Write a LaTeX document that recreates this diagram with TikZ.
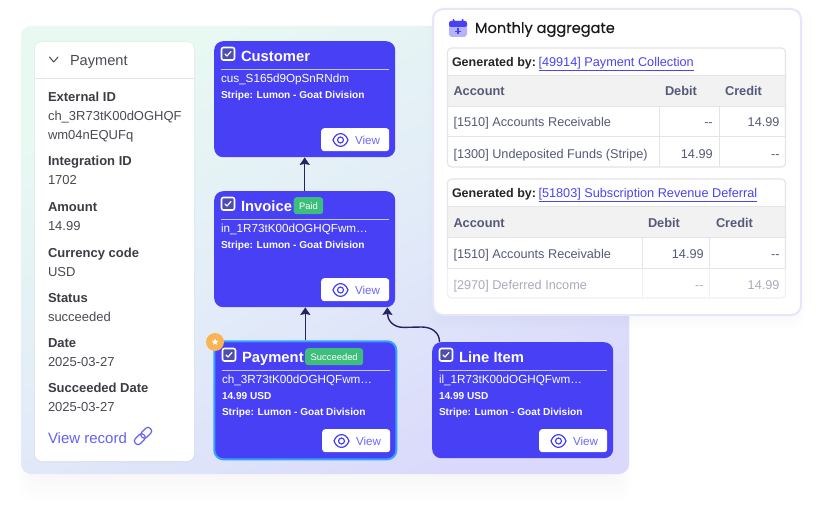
\documentclass[tikz,border=0pt]{standalone}
\usepackage{fontspec}
\setmainfont{Liberation Sans}
\newfontfamily\popfont[FakeBold=0.35]{Poppins}
\usetikzlibrary{arrows.meta,calc,shapes.geometric}
\definecolor{cardblue}{HTML}{4840F5}
\definecolor{checkfill}{HTML}{4E4EAE}
\definecolor{inkdark}{HTML}{3C3C44}
\definecolor{inkmid}{HTML}{4A4A52}
\definecolor{arrowink}{HTML}{25245F}
\definecolor{tabletext}{HTML}{555A78}
\definecolor{tablefade}{HTML}{A9ABC0}
\definecolor{tableline}{HTML}{E4E4E8}
\definecolor{tablelinefade}{HTML}{F0F0F3}
\definecolor{okgreen}{HTML}{3DBE7B}
\definecolor{linkblue}{HTML}{4A45F0}
\definecolor{bgmint}{HTML}{E8F9F2}
\definecolor{bgmid}{HTML}{E2ECF8}
\definecolor{bglav}{HTML}{DAD9FB}
\definecolor{panelrim}{HTML}{E6E6FB}
\definecolor{starorange}{HTML}{F9B455}
\definecolor{shadowink}{HTML}{8A8AB0}
\newcommand{\fs}[1]{\fontsize{#1}{#1}\selectfont}
\tikzset{
  txt/.style={inner sep=0pt,outer sep=0pt,anchor=base west},
  txtr/.style={inner sep=0pt,outer sep=0pt,anchor=base east},
  panelkey/.style={txt,text=inkdark,font=\fs{13}\bfseries},
  panelval/.style={txt,text=inkmid,font=\fs{13}},
  card/.style={fill=cardblue,rounded corners=9pt,anchor=north west,minimum width=181pt,minimum height=116pt,inner sep=0pt},
  cardtitle/.style={txt,text=white,font=\fs{14.8}\bfseries},
  cardid/.style={txt,text=white,font=\fs{11.7}},
  cardsmall/.style={txt,text=white,font=\fs{10.1}\bfseries},
  badge/.style={fill=okgreen,rounded corners=3pt,text=white,font=\fs{9.4},inner sep=0pt,anchor=north west,minimum height=17pt},
  viewbtn/.style={fill=white,rounded corners=3pt,anchor=north west,minimum width=68pt,minimum height=23pt,inner sep=0pt},
  link/.style={arrowink,line width=1.4pt,-{Stealth[length=7.5pt,width=10pt,inset=1pt]}},
  th/.style={txt,text=tabletext,font=\fs{12.8}\bfseries},
  td/.style={txt,text=tabletext,font=\fs{12.7}},
  tdr/.style={txtr,text=tabletext,font=\fs{12.7}},
  tdfade/.style={txt,text=tablefade,font=\fs{12.7}},
  tdrfade/.style={txtr,text=tablefade,font=\fs{12.7}},
  gen/.style={txt,text=black!85,font=\fs{12.5}\bfseries},
  genlink/.style={txt,text=linkblue,font=\fs{12.7}},
  grid/.style={tableline,line width=1pt},
}
% checkbox, title, divider, id line and View button of one card
\newcommand{\cardhead}[3]{%
  \draw[white,line width=1.6pt,fill=checkfill,rounded corners=2pt] (7.5,6.5) rectangle (20.5,19);
  \draw[white,line width=1.2pt,line cap=round,line join=round] (11,13) -- (13,15) -- (17,10.5);
  \node[cardtitle] (#1title) at (27,20.5) {#2};
  \draw[white!70!cardblue,line width=1pt] (7,28.5) -- (175,28.5);
  \node[cardid] (#1id) at (7,41.5) {#3};
  \node[viewbtn] (#1btn) at (107,87) {};
  \draw[cardblue,line width=1.2pt] (119,99) .. controls (122,90.5) and (131,90.5) .. (134,99) .. controls (131,107.5) and (122,107.5) .. (119,99) -- cycle;
  \draw[cardblue,line width=1.2pt] (126.5,99) circle (3);
  \node[txt,text=cardblue!80!white,font=\fs{11.6}] (#1view) at (141,103.2) {View};
}
\begin{document}
\begin{tikzpicture}[x=1pt,y=-1pt]
\useasboundingbox (0,0) rectangle (822,508);
\fill[white] (0,0) rectangle (822,508);
% soft shadow of the backdrop
\foreach \g in {1,...,9}{
  \fill[shadowink,opacity=.006,rounded corners=16pt]
    ($(36,40)+(-\g*2,0)$) rectangle ($(614,470)+(\g*2,\g*3.4)$);
}
% backdrop
\shade[rounded corners=10pt,top color=bgmint,bottom color=bglav,middle color=bgmid,shading angle=30]
  (21,26) rectangle (629,474);
% left panel
\fill[black!30,opacity=.12,rounded corners=8pt] (34,41) rectangle (195,462.5);
\fill[white,rounded corners=7pt] (35,42) rectangle (194,461);
\draw[tableline,line width=1pt] (35,78.5) -- (194,78.5);
\draw[inkmid,line width=1pt,line cap=round,line join=round] (49.5,57) -- (53.7,62) -- (58,57);
\node[txt,text=inkmid,font=\fs{14.6}] (phead) at (70,65.5) {Payment};
\node[panelkey] (k1) at (48,102) {External ID};
\node[panelval] (v1a) at (48,121) {ch\_3R73tK00dOGHQF};
\node[panelval] (v1b) at (48,140) {wm04nEQUFq};
\node[panelkey] (k2) at (48,166) {Integration ID};
\node[panelval] (v2) at (48,185) {1702};
\node[panelkey] (k3) at (48,211) {Amount};
\node[panelval] (v3) at (48,230) {14.99};
\node[panelkey] (k4) at (48,257) {Currency code};
\node[panelval] (v4) at (48,276) {USD};
\node[panelkey] (k5) at (48,302) {Status};
\node[panelval] (v5) at (48,321) {succeeded};
\node[panelkey] (k6) at (48,347) {Date};
\node[panelval] (v6) at (48,366) {2025-03-27};
\node[panelkey] (k7) at (48,392) {Succeeded Date};
\node[panelval] (v7) at (48,411) {2025-03-27};
\node[txt,text=linkblue!85!white,font=\fs{15}] (vrec) at (48,443) {View record};
\begin{scope}[shift={(143,436)},rotate=45]
  \draw[linkblue!85!white,line width=1.2pt,rounded corners=3pt] (-10.5,-3.5) rectangle (1.5,3.5);
  \draw[linkblue!85!white,line width=1.2pt,rounded corners=3pt] (-1.5,-3.5) rectangle (10.5,3.5);
\end{scope}
% cards
\node[card] (customer) at (214,41) {};
\node[card] (invoice) at (214,191) {};
\node[card,draw=blue!45!cyan!80!white,line width=2pt,minimum width=182pt,minimum height=118pt] (payment) at (213.3,340.3) {};
\node[card,minimum height=116pt] (lineitem) at (432,342) {};
\begin{scope}[shift={(214,41)}]
  \cardhead{cu}{Customer}{cus\_S165d9OpSnRNdm}
  \node[cardsmall] (custripe) at (7,57.5) {Stripe: Lumon - Goat Division};
\end{scope}
\begin{scope}[shift={(214,191)}]
  \cardhead{in}{Invoice}{in\_1R73tK00dOGHQFwm…}
  \node[badge,minimum width=29.5pt] (inbadge) at (79.5,6) {Paid};
  \node[cardsmall] (instripe) at (7,57.5) {Stripe: Lumon - Goat Division};
\end{scope}
\begin{scope}[shift={(215,342)}]
  \cardhead{pa}{Payment}{ch\_3R73tK00dOGHQFwm…}
  \node[badge,minimum width=58pt] (pabadge) at (90,6) {Succeeded};
  \node[cardsmall] (paamt) at (7,57.5) {14.99 USD};
  \node[cardsmall] (pastripe) at (7,73.5) {Stripe: Lumon - Goat Division};
\end{scope}
\begin{scope}[shift={(432,342)}]
  \cardhead{li}{Line Item}{il\_1R73tK00dOGHQFwm…}
  \node[cardsmall] (liamt) at (7,57.5) {14.99 USD};
  \node[cardsmall] (listripe) at (7,73.5) {Stripe: Lumon - Goat Division};
\end{scope}
\node[circle,fill=starorange,minimum size=18pt,inner sep=0pt] (starbadge) at (215,342) {};
\node[star,star points=5,star point ratio=2.2,fill=white,minimum size=7pt,inner sep=0pt] (starglyph) at (215,342) {};
% connectors
\draw[link] (invoice.north) -- (customer.south);
\draw[link] (payment.north) -- (payment.north |- invoice.south);
\coordinate (liout) at ($(lineitem.north west)+(7.5,0)$);
\coordinate (inin) at ($(invoice.south east)+(-8,0)$);
\draw[link] (liout) .. controls ($(liout)+(0,-9)$) and ($(liout)+(-7,-15)$) .. ($(liout)+(-18,-15)$)
  -- ($(inin)+(16,20)$) .. controls ($(inin)+(5,20)$) and ($(inin)+(0,12)$) .. (inin);
% aggregate panel
\foreach \g in {1,...,6}{
  \fill[shadowink,opacity=.006,rounded corners=14pt] ($(440,12)+(-\g*2,0)$) rectangle ($(794,315)+(\g*2,\g*2.5)$);
}
\draw[draw=panelrim,line width=2pt,fill=white,rounded corners=10pt] (433,9) rectangle (801,315);
% calendar icon
\fill[cardblue!40!white,rounded corners=3pt] (449,21) rectangle (467,37);
\fill[cardblue,rounded corners=2pt] (449,21) rectangle (467,27);
\fill[cardblue,rounded corners=.8pt] (452.5,19) rectangle (454.5,23);
\fill[cardblue,rounded corners=.8pt] (461.5,19) rectangle (463.5,23);
\draw[cardblue,line width=1.4pt] (455,31.5) -- (461,31.5) (458,28.5) -- (458,34.5);
\node[txt,text=black!90,font=\popfont\fs{14.6}] (mtitle) at (475,33) {Monthly aggregate};
% table 1
\fill[black!5] (447.5,75.5) rectangle (785.5,106.5);
\draw[grid] (447.5,75.5) -- (785.5,75.5) (447.5,106.5) -- (785.5,106.5) (447.5,137) -- (785.5,137)
  (659,106.5) -- (659,167) (719,106.5) -- (719,167);
\draw[grid,line width=1.1pt,rounded corners=4pt] (447.5,48) rectangle (785.5,167);
\node[gen] (g1) at (452,66.5) {Generated by:};
\node[genlink] (g1l) at (538.5,66.5) {\underline{[49914] Payment Collection}};
\node[th] (t1a) at (453.5,96) {Account};
\node[th] (t1b) at (665,96) {Debit};
\node[th] (t1c) at (725,96) {Credit};
\node[td] (r11) at (453.5,127) {[1510] Accounts Receivable};
\node[tdr] (r12) at (712.7,127) {-{}-};
\node[tdr] (r13) at (779.5,127) {14.99};
\node[td] (r21) at (453.5,158) {[1300] Undeposited Funds (Stripe)};
\node[tdr] (r22) at (712.7,158) {14.99};
\node[tdr] (r23) at (779.5,158) {-{}-};
% table 2
\fill[black!5] (447.5,206.5) rectangle (785.5,237.5);
\draw[grid] (447.5,206.5) -- (785.5,206.5) (447.5,237.5) -- (785.5,237.5) (447.5,268) -- (785.5,268)
  (642,237.5) -- (642,268) (709.5,237.5) -- (709.5,268);
\draw[tablelinefade,line width=1pt] (642,268) -- (642,298) (709.5,268) -- (709.5,298);
\draw[grid,line width=1.1pt,rounded corners=4pt] (447.5,268) -- (447.5,179) -- (785.5,179) -- (785.5,268);
\draw[tablelinefade,line width=1.1pt,rounded corners=4pt] (447.5,268) -- (447.5,298) -- (785.5,298) -- (785.5,268);
\node[gen] (g2) at (452,197.5) {Generated by:};
\node[genlink] (g2l) at (538.5,197.5) {\underline{[51803] Subscription Revenue Deferral}};
\node[th] (t2a) at (453.5,227) {Account};
\node[th] (t2b) at (648,227) {Debit};
\node[th] (t2c) at (716,227) {Credit};
\node[td] (s11) at (453.5,258) {[1510] Accounts Receivable};
\node[tdr] (s12) at (703.7,258) {14.99};
\node[tdr] (s13) at (779.5,258) {-{}-};
\node[tdfade] (s21) at (453.5,289) {[2970] Deferred Income};
\node[tdrfade] (s22) at (703.7,289) {-{}-};
\node[tdrfade] (s23) at (779.5,289) {14.99};
\end{tikzpicture}
\end{document}
